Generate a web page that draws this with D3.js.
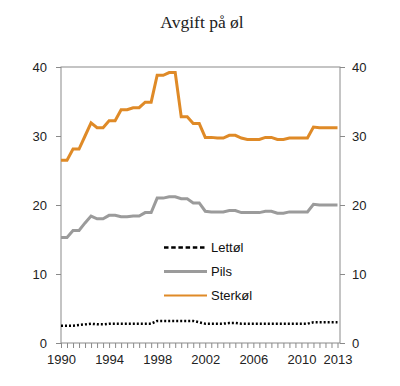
<!DOCTYPE html>
<html>
<head>
<meta charset="utf-8">
<script src="https://cdn.jsdelivr.net/npm/d3@7"></script>
<style>
  body { margin: 0; background: #fff; }
  svg { display: block; }
  .tick text { font-family: "Liberation Sans", Arial, sans-serif; font-size: 13px; fill: #222; }
  .tick line { stroke: #8a8a8a; }
  .legend text { font-family: "Liberation Sans", Arial, sans-serif; font-size: 13px; fill: #111; }
</style>
</head>
<body>
<svg id="chart" width="400" height="386"></svg>
<script>
// half-year periods, 1990 to 2013
const periods = [
  1990, 1990.5, 1991, 1991.5, 1992, 1992.5, 1993, 1993.5, 1994, 1994.5,
  1995, 1995.5, 1996, 1996.5, 1997, 1997.5, 1998, 1998.5, 1999, 1999.5,
  2000, 2000.5, 2001, 2001.5, 2002, 2002.5, 2003, 2003.5, 2004, 2004.5,
  2005, 2005.5, 2006, 2006.5, 2007, 2007.5, 2008, 2008.5, 2009, 2009.5,
  2010, 2010.5, 2011, 2011.5, 2012, 2012.5, 2013,
];

const lettol = [
  2.5, 2.5, 2.5, 2.6, 2.7, 2.8, 2.7, 2.7, 2.8, 2.8,
  2.8, 2.8, 2.8, 2.8, 2.8, 2.8, 3.2, 3.2, 3.2, 3.2,
  3.2, 3.2, 3.2, 3.0, 2.8, 2.8, 2.8, 2.8, 2.9, 2.9,
  2.8, 2.8, 2.8, 2.8, 2.8, 2.8, 2.8, 2.8, 2.8, 2.8,
  2.8, 2.8, 3.0, 3.0, 3.0, 3.0, 3.0,
];

const pils = [
  15.3, 15.3, 16.3, 16.3, 17.4, 18.4, 18.0, 18.0, 18.5, 18.5,
  18.3, 18.3, 18.4, 18.4, 18.9, 18.9, 21.0, 21.0, 21.2, 21.2,
  20.9, 20.9, 20.3, 20.3, 19.1, 19.0, 19.0, 19.0, 19.2, 19.2,
  18.9, 18.9, 18.9, 18.9, 19.1, 19.1, 18.8, 18.8, 19.0, 19.0,
  19.0, 19.0, 20.1, 20.0, 20.0, 20.0, 20.0,
];

const sterkol = [
  26.5, 26.5, 28.1, 28.1, 30.0, 31.9, 31.2, 31.2, 32.2, 32.2,
  33.8, 33.8, 34.1, 34.1, 34.9, 34.9, 38.8, 38.8, 39.2, 39.2,
  32.8, 32.8, 31.8, 31.8, 29.8, 29.8, 29.7, 29.7, 30.1, 30.1,
  29.7, 29.5, 29.5, 29.5, 29.8, 29.8, 29.5, 29.5, 29.7, 29.7,
  29.7, 29.7, 31.3, 31.2, 31.2, 31.2, 31.2,
];

const yTicks = [0, 10, 20, 30, 40];
const xLabels = [1990, 1994, 1998, 2002, 2006, 2010, 2013];

const series = [
  { name: "Lettøl", values: lettol, color: "#000", width: 2.5, dash: "2,2", legendDash: "4.5,2.7", legendWidth: 2.7 },
  { name: "Pils", values: pils, color: "#9b9b9b", width: 3, dash: null, legendDash: null, legendWidth: 3 },
  { name: "Sterkøl", values: sterkol, color: "#df8a27", width: 3, dash: null, legendDash: null, legendWidth: 2 },
];

const svg = d3.select("#chart");
const plotLeft = 61, plotRight = 340, plotTop = 67, plotBottom = 343;

const x = d3.scaleLinear().domain([1990, 2013]).range([plotLeft, 337.5]);
const y = d3.scaleLinear().domain([0, 40]).range([plotBottom, plotTop]);

svg.append("text")
  .attr("x", 202)
  .attr("y", 28)
  .attr("text-anchor", "middle")
  .attr("font-family", '"Liberation Serif", "Times New Roman", serif')
  .attr("font-size", 17.5)
  .attr("fill", "#222")
  .text("Avgift på øl");

// axes
svg.append("g")
  .attr("transform", `translate(${plotLeft},0)`)
  .call(d3.axisLeft(y).tickValues(yTicks).tickSize(5).tickPadding(9))
  .call((g) => g.select(".domain").remove());

svg.append("g")
  .attr("transform", `translate(${plotRight},0)`)
  .call(d3.axisRight(y).tickValues(yTicks).tickSize(5).tickPadding(7))
  .call((g) => g.select(".domain").remove());

svg.append("g")
  .attr("transform", `translate(0,${plotBottom})`)
  .call(d3.axisBottom(x).tickValues(periods).tickSize(5).tickFormat(""))
  .call((g) => g.select(".domain").remove());

svg.append("g")
  .attr("transform", `translate(0,${plotBottom})`)
  .call(d3.axisBottom(x).tickValues(xLabels).tickSize(0).tickPadding(12).tickFormat(d3.format("d")))
  .call((g) => g.select(".domain").remove());

svg.append("rect")
  .attr("x", plotLeft)
  .attr("y", plotTop)
  .attr("width", plotRight - plotLeft)
  .attr("height", plotBottom - plotTop)
  .attr("fill", "none")
  .attr("stroke", "#8a8a8a")
  .attr("stroke-width", 1);

// lines
const line = d3.line()
  .x((d, i) => x(periods[i]))
  .y((d) => y(d));

series.forEach((s) => {
  svg.append("path")
    .datum(s.values)
    .attr("fill", "none")
    .attr("stroke", s.color)
    .attr("stroke-width", s.width)
    .attr("stroke-dasharray", s.dash)
    .attr("d", line);
});

// legend
const legend = svg.append("g").attr("class", "legend");
series.forEach((s, i) => {
  const ly = 247.5 + i * 24;
  legend.append("line")
    .attr("x1", 164)
    .attr("x2", 207)
    .attr("y1", ly)
    .attr("y2", ly)
    .attr("stroke", s.color)
    .attr("stroke-width", s.legendWidth)
    .attr("stroke-dasharray", s.legendDash);
  legend.append("text")
    .attr("x", 211)
    .attr("y", ly + 4.5)
    .text(s.name);
});
</script>
</body>
</html>
